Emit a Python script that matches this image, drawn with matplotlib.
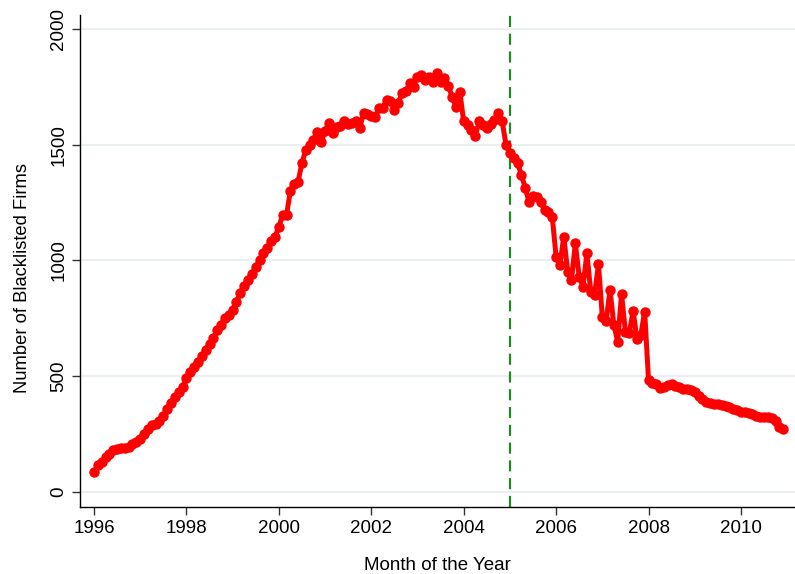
import matplotlib
matplotlib.use("Agg")
import matplotlib.pyplot as plt
import numpy as np

# monthly counts, Jan 1996 - Dec 2010
y1996 = [85, 115, 130, 150, 165, 180, 185, 188, 190, 195, 205, 215]
y1997 = [230, 250, 270, 290, 295, 305, 330, 360, 385, 410, 430, 455]
y1998 = [490, 520, 540, 560, 585, 613, 640, 665, 700, 720, 750, 765]
y1999 = [786, 822, 860, 890, 915, 940, 970, 1000, 1030, 1055, 1085, 1100]
y2000 = [1146, 1195, 1197, 1300, 1330, 1340, 1420, 1477, 1500, 1520, 1556, 1510]
y2001 = [1560, 1592, 1549, 1575, 1580, 1600, 1590, 1592, 1600, 1571, 1636, 1630]
y2002 = [1625, 1621, 1657, 1660, 1693, 1690, 1650, 1679, 1722, 1730, 1765, 1750]
y2003 = [1794, 1801, 1780, 1794, 1772, 1808, 1770, 1787, 1755, 1707, 1664, 1729]
y2004 = [1600, 1585, 1564, 1535, 1600, 1585, 1571, 1590, 1605, 1636, 1600, 1499]
y2005 = [1463, 1441, 1419, 1369, 1312, 1250, 1276, 1272, 1254, 1218, 1211, 1189]
y2006 = [1016, 981, 1103, 952, 916, 1074, 930, 887, 1031, 865, 851, 985]
y2007 = [757, 739, 873, 721, 649, 855, 692, 685, 783, 660, 678, 779]
y2008 = [484, 470, 468, 450, 455, 460, 465, 458, 452, 446, 443, 440]
y2009 = [430, 415, 400, 390, 383, 382, 380, 375, 370, 365, 358, 352]
y2010 = [347, 345, 340, 335, 330, 325, 322, 322, 318, 305, 280, 270]

firms = np.array(y1996 + y1997 + y1998 + y1999 + y2000 + y2001 + y2002 + y2003
                 + y2004 + y2005 + y2006 + y2007 + y2008 + y2009 + y2010)
months = 1996 + np.arange(len(firms)) / 12.0

xticks = [1996, 1998, 2000, 2002, 2004, 2006, 2008, 2010]
yticks = [0, 500, 1000, 1500, 2000]
cutoff = 2005

plt.rcParams['font.family'] = ['Liberation Sans', 'DejaVu Sans']

fig = plt.figure(figsize=(7.95, 5.74), dpi=100)
ax = fig.add_axes([0.1006, 0.1167, 0.8994, 0.8573])

for v in yticks:
    ax.axhline(v, color='#eaf0f2', lw=1.5, zorder=0)

ax.plot(months, firms, '-o', color='red', lw=3.6, ms=6.5, zorder=3)
ax.axvline(cutoff, color='#1f8a1f', lw=1.6, ls=(0, (5, 3)), zorder=2)

ax.set_xlim(1995.697, 2011.17)
ax.set_ylim(-65, 2060)
ax.set_xticks(xticks)
ax.set_yticks(yticks)
ax.set_yticklabels([str(v) for v in yticks], rotation=90, va='center')
ax.tick_params(axis='both', labelsize=13.5, length=6, width=1, direction='out', color='#333333')
ax.tick_params(axis='x', pad=3)
ax.tick_params(axis='y', pad=3)

for s in ['top', 'right']:
    ax.spines[s].set_visible(False)
for s in ['left', 'bottom']:
    ax.spines[s].set_color('black')
    ax.spines[s].set_linewidth(1)

ax.set_xlabel("Month of the Year", fontsize=13.5, labelpad=15)
ax.set_ylabel("Number of Blacklisted Firms", fontsize=13.2)
ax.yaxis.set_label_coords(-0.068, 0.465)

plt.savefig('out.png', dpi=100)
